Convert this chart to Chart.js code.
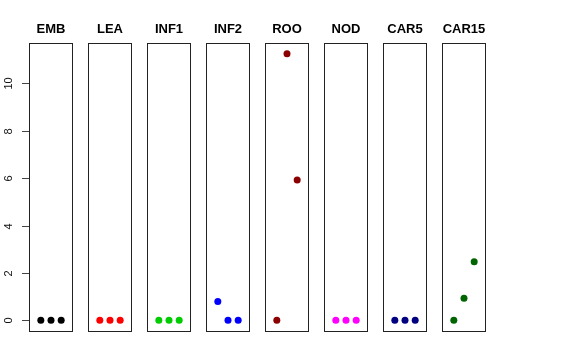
<!DOCTYPE html>
<html><head><meta charset="utf-8">
<script src="https://cdn.jsdelivr.net/npm/chart.js@4"></script>
<style>
html,body{margin:0;padding:0;background:#fff;}
#wrap{position:relative;width:576px;height:360px;overflow:hidden;background:#fff;}
#wrap canvas{position:absolute;top:0;}
</style>
</head><body><div id="wrap"></div>
<script>
// ---- data ----
const categories = ['EMB', 'LEA', 'INF1', 'INF2', 'ROO', 'NOD', 'CAR5', 'CAR15'];
const positions = [1, 2, 3];
const EMB   = [0, 0, 0];
const LEA   = [0, 0, 0];
const INF1  = [0, 0, 0];
const INF2  = [0.79, 0, 0];
const ROO   = [0, 11.25, 5.92];
const NOD   = [0, 0, 0];
const CAR5  = [0, 0, 0];
const CAR15 = [0, 0.93, 2.47];
const seriesValues = [EMB, LEA, INF1, INF2, ROO, NOD, CAR5, CAR15];
const yTickLabels = [0, 2, 4, 6, 8, 10];
const colors = ['#000000', '#FF0000', '#00CD00', '#0000FF', '#8B0000', '#FF00FF', '#000080', '#006400'];

// ---- layout ----
const W = 576, H = 360;
const firstLeft = 29, panelW = 44, pitch = 59, plotTop = 43, plotBottom = 331, sidePad = 8;

const wrap = document.getElementById('wrap');

const panelPlugin = {
  id: 'panelDeco',
  afterDraw(chart, args, opts) {
    const ctx = chart.ctx;
    const a = chart.chartArea;
    ctx.save();
    ctx.strokeStyle = '#222';
    ctx.lineWidth = 1;
    ctx.strokeRect(Math.round(a.left) + 0.5, Math.round(a.top) + 0.5,
                   Math.round(a.right - a.left) - 1, Math.round(a.bottom - a.top));
    ctx.fillStyle = '#000';
    ctx.font = 'bold 13px "Liberation Sans", Arial, sans-serif';
    ctx.textAlign = 'center';
    ctx.textBaseline = 'middle';
    ctx.fillText(opts.title, (a.left + a.right) / 2, 29);
    if (opts.axis) {
      const y = chart.scales.y;
      ctx.strokeStyle = '#444';
      ctx.fillStyle = '#111';
      ctx.font = '11px "Liberation Sans", Arial, sans-serif';
      yTickLabels.forEach(v => {
        const py = Math.round(y.getPixelForValue(v)) + 0.5;
        ctx.beginPath();
        ctx.moveTo(a.left - 7, py);
        ctx.lineTo(a.left, py);
        ctx.stroke();
        ctx.save();
        ctx.translate(12, py);
        ctx.rotate(-Math.PI / 2);
        ctx.textAlign = 'center';
        ctx.textBaseline = 'alphabetic';
        ctx.fillText(String(v), 0, 0);
        ctx.restore();
      });
    }
    ctx.restore();
  }
};

categories.forEach((cat, i) => {
  const left = firstLeft + i * pitch;
  const canvasLeft = i === 0 ? 0 : left - sidePad;
  const padL = left - canvasLeft;
  const cw = padL + panelW + sidePad;
  const canvas = document.createElement('canvas');
  canvas.width = cw; canvas.height = H;
  canvas.style.left = canvasLeft + 'px';
  canvas.style.width = cw + 'px'; canvas.style.height = H + 'px';
  wrap.appendChild(canvas);
  new Chart(canvas, {
    type: 'scatter',
    data: {
      datasets: [{
        label: cat,
        data: positions.map((p, k) => ({ x: p, y: seriesValues[i][k] })),
        backgroundColor: colors[i],
        borderColor: colors[i],
        borderWidth: 0,
        pointRadius: 3.5,
        pointHoverRadius: 3.5
      }]
    },
    options: {
      responsive: false,
      animation: false,
      devicePixelRatio: 1,
      layout: { padding: { left: padL, right: sidePad, top: plotTop, bottom: H - plotBottom } },
      scales: {
        x: { type: 'linear', display: false, min: -0.16, max: 4.16 },
        y: { type: 'linear', display: false, min: -0.45, max: 11.7 }
      },
      plugins: {
        legend: { display: false },
        tooltip: { enabled: false },
        title: { display: false },
        panelDeco: { title: cat, axis: i === 0 }
      },
      clip: false
    },
    plugins: [panelPlugin]
  });
});
</script>
</body></html>
